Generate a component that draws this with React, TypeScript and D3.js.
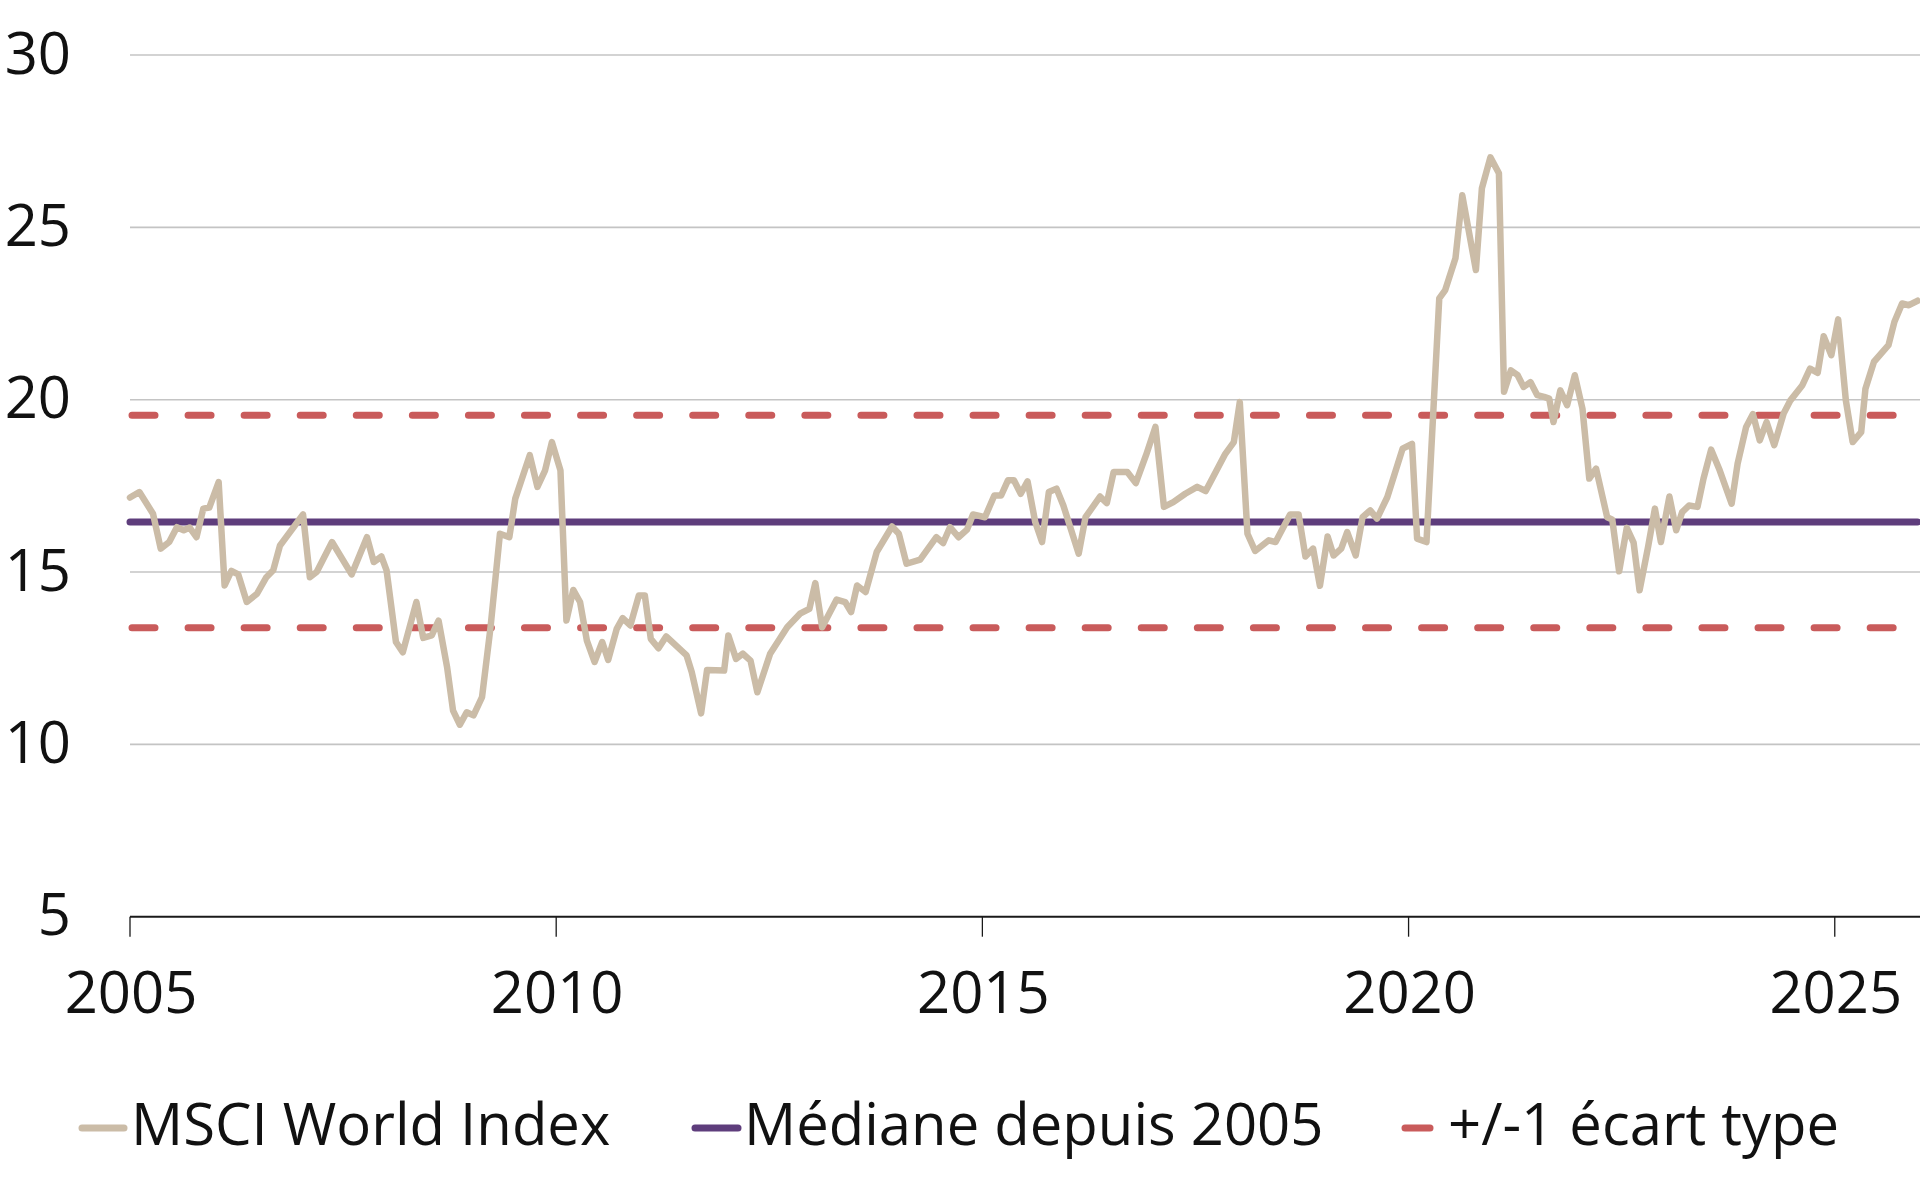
import React from "react";
import * as d3 from "d3";

const dates: number[] = [
  2005.0, 2005.11, 2005.27, 2005.36, 2005.46, 2005.55, 2005.63, 2005.7, 2005.78, 2005.86, 2005.93,
  2006.04, 2006.11, 2006.19, 2006.27, 2006.37, 2006.49, 2006.6, 2006.68, 2006.76,
  2007.03, 2007.11, 2007.19, 2007.37, 2007.6, 2007.78, 2007.86, 2007.95,
  2008.01, 2008.12, 2008.2, 2008.36, 2008.44, 2008.54, 2008.62, 2008.72, 2008.79, 2008.87, 2008.95,
  2009.03, 2009.13, 2009.23, 2009.34, 2009.45, 2009.52, 2009.69, 2009.78, 2009.87, 2009.95,
  2010.05, 2010.12, 2010.2, 2010.28, 2010.36, 2010.45, 2010.54, 2010.61, 2010.71, 2010.78, 2010.87, 2010.97,
  2011.04, 2011.11, 2011.2, 2011.29, 2011.53, 2011.59, 2011.7, 2011.77, 2011.97,
  2012.02, 2012.11, 2012.19, 2012.28, 2012.36, 2012.51, 2012.71, 2012.86, 2012.97,
  2013.04, 2013.12, 2013.29, 2013.39, 2013.46, 2013.53, 2013.63, 2013.76, 2013.94,
  2014.02, 2014.11, 2014.27, 2014.46, 2014.54, 2014.62, 2014.72, 2014.82, 2014.89,
  2015.03, 2015.14, 2015.22, 2015.3, 2015.37, 2015.45, 2015.53, 2015.62, 2015.7, 2015.78, 2015.87, 2015.95,
  2016.13, 2016.21, 2016.38, 2016.46, 2016.54, 2016.7, 2016.8, 2016.92,
  2017.03, 2017.13, 2017.24, 2017.38, 2017.52, 2017.62, 2017.85, 2017.95,
  2018.02, 2018.11, 2018.2, 2018.36, 2018.44, 2018.61, 2018.71, 2018.79, 2018.88, 2018.96,
  2019.05, 2019.12, 2019.21, 2019.28, 2019.38, 2019.46, 2019.55, 2019.63, 2019.75, 2019.93,
  2020.04, 2020.1, 2020.21, 2020.36, 2020.43, 2020.55, 2020.63, 2020.79, 2020.86, 2020.96,
  2021.06, 2021.12, 2021.2, 2021.28, 2021.35, 2021.43, 2021.51, 2021.59, 2021.65, 2021.7, 2021.78, 2021.86, 2021.95,
  2022.04, 2022.12, 2022.2, 2022.33, 2022.39, 2022.47, 2022.56, 2022.64, 2022.71, 2022.81, 2022.89, 2022.96,
  2023.06, 2023.14, 2023.21, 2023.29, 2023.39, 2023.46, 2023.55, 2023.65, 2023.79, 2023.86, 2023.96,
  2024.04, 2024.12, 2024.2, 2024.29, 2024.4, 2024.48, 2024.62, 2024.71, 2024.8, 2024.87, 2024.96,
  2025.04, 2025.13, 2025.21, 2025.31, 2025.36, 2025.46, 2025.63, 2025.7, 2025.79, 2025.87, 2025.97,
];

const msciPE: number[] = [
  17.16, 17.32, 16.69, 15.68, 15.87, 16.3, 16.21, 16.29, 16.01, 16.84, 16.87,
  17.61, 14.61, 15.03, 14.93, 14.13, 14.37, 14.85, 15.05, 15.77,
  16.67, 14.85, 15.0, 15.87, 14.93, 16.01, 15.29, 15.45,
  15.05, 12.97, 12.67, 14.13, 13.09, 13.16, 13.59, 12.24, 10.98, 10.57, 10.93,
  10.84, 11.37, 13.4, 16.11, 16.01, 17.13, 18.39, 17.47, 17.95, 18.77,
  17.95, 13.59, 14.48, 14.13, 13.01, 12.39, 12.97, 12.45, 13.35, 13.66, 13.45, 14.32,
  14.32, 13.06, 12.79, 13.13, 12.58, 12.1, 10.9, 12.16, 12.14,
  13.16, 12.48, 12.63, 12.43, 11.51, 12.63, 13.4, 13.79, 13.93,
  14.68, 13.4, 14.2, 14.13, 13.84, 14.61, 14.42, 15.58, 16.32,
  16.11, 15.24, 15.36, 16.01, 15.84, 16.3, 16.01, 16.23, 16.67,
  16.59, 17.22, 17.22, 17.66, 17.66, 17.27, 17.63, 16.45, 15.87, 17.32, 17.42, 16.93,
  15.53, 16.59, 17.19, 17.0, 17.9, 17.9, 17.58, 18.39,
  19.21, 16.89, 17.03, 17.27, 17.47, 17.35, 18.43, 18.77,
  19.93, 16.11, 15.61, 15.92, 15.87, 16.67, 16.67, 15.45, 15.68, 14.6,
  16.03, 15.48, 15.68, 16.16, 15.48, 16.59, 16.79, 16.55, 17.17, 18.58,
  18.72, 15.97, 15.87, 22.94, 23.18, 24.1, 25.93, 23.76, 26.13, 27.03,
  26.57, 20.23, 20.85, 20.71, 20.37, 20.51, 20.13, 20.08, 20.03, 19.35, 20.27, 19.84, 20.71,
  19.74, 17.71, 18.0, 16.59, 16.52, 15.02, 16.28, 15.85, 14.47, 15.73, 16.84, 15.87,
  17.19, 16.21, 16.74, 16.93, 16.89, 17.71, 18.55, 17.95, 16.98, 18.14, 19.21,
  19.58, 18.82, 19.35, 18.68, 19.6, 19.98, 20.42, 20.9, 20.78, 21.84, 21.29,
  22.33, 19.98, 18.77, 19.06, 20.32, 21.1, 21.58, 22.26, 22.79, 22.74, 22.87,
];

const medianValue: number[] = [16.45];
const stdBands: number[] = [19.55, 13.38];

const yTicks: number[] = [5, 10, 15, 20, 25, 30];
const xTicks: number[] = [2005, 2010, 2015, 2020, 2025];

const legendLabels: string[] = ["MSCI World Index", "Médiane depuis 2005", "+/-1 écart type"];

const COLORS = {
  msci: "#CBBCA7",
  median: "#5E3D7C",
  band: "#C95B5B",
  grid: "#C4C4C4",
  axis: "#1a1a1a",
  text: "#111111",
};

const FONT = "'Open Sans', 'Noto Sans', sans-serif";

export default function App() {
  const W = 1920;
  const H = 1200;
  const x = d3.scaleLinear().domain([2005, 2026]).range([130, 1920]);
  const y = d3.scaleLinear().domain([5, 30]).range([916.7, 55]);

  const pts = dates.map((d, i) => [d, msciPE[i]] as [number, number]);
  const line = d3
    .line<[number, number]>()
    .x((p) => x(p[0]))
    .y((p) => y(p[1]));

  const fontSize = 58;

  const legendItems = [
    { label: legendLabels[0], color: COLORS.msci, x1: 82, x2: 124, tx: 131 },
    { label: legendLabels[1], color: COLORS.median, x1: 695, x2: 738, tx: 744 },
    { label: legendLabels[2], color: COLORS.band, x1: 1405, x2: 1430, tx: 1448 },
  ];

  return (
    <div style={{ position: "absolute", left: 0, top: 0, width: W, height: H, background: "#fff" }}>
      <svg width={W} height={H} viewBox={`0 0 ${W} ${H}`} style={{ display: "block" }}>
        <rect x={0} y={0} width={W} height={H} fill="#fff" />
        {/* gridlines */}
        {yTicks
          .filter((t) => t !== 5)
          .map((t) => (
            <line
              key={"g" + t}
              x1={x(2005)}
              x2={W}
              y1={y(t)}
              y2={y(t)}
              stroke={COLORS.grid}
              strokeWidth={1.6}
            />
          ))}
        {/* y labels */}
        {yTicks.map((t) => (
          <text
            key={"yl" + t}
            x={71}
            y={y(t) + 18.5}
            textAnchor="end"
            fontFamily={FONT}
            fontSize={fontSize}
            fill={COLORS.text}
          >
            {t}
          </text>
        ))}
        {/* x axis */}
        <line x1={x(2005)} x2={W} y1={y(5)} y2={y(5)} stroke={COLORS.axis} strokeWidth={2} />
        {xTicks.map((t) => (
          <g key={"xt" + t}>
            <line x1={x(t)} x2={x(t)} y1={y(5)} y2={y(5) + 20} stroke={COLORS.axis} strokeWidth={1.3} />
            <text
              x={x(t) + 1}
              y={1013}
              textAnchor="middle"
              fontFamily={FONT}
              fontSize={fontSize}
              fill={COLORS.text}
            >
              {t}
            </text>
          </g>
        ))}
        {/* std bands */}
        {stdBands.map((v, i) => (
          <line
            key={"b" + i}
            x1={x(2005) + 2}
            x2={W}
            y1={y(v)}
            y2={y(v)}
            stroke={COLORS.band}
            strokeWidth={7}
            strokeLinecap="round"
            strokeDasharray="23 33.07"
          />
        ))}
        {/* median */}
        {medianValue.map((v, i) => (
          <line
            key={"m" + i}
            x1={x(2005)}
            x2={x(dates[dates.length - 1])}
            y1={y(v)}
            y2={y(v)}
            stroke={COLORS.median}
            strokeWidth={7}
            strokeLinecap="round"
          />
        ))}
        {/* MSCI line */}
        <path
          d={line(pts) || ""}
          fill="none"
          stroke={COLORS.msci}
          strokeWidth={6.5}
          strokeLinejoin="round"
          strokeLinecap="round"
        />
        {/* legend */}
        {legendItems.map((it, i) => (
          <g key={"lg" + i}>
            <line
              x1={it.x1}
              x2={it.x2}
              y1={1128}
              y2={1128}
              stroke={it.color}
              strokeWidth={7}
              strokeLinecap="round"
            />
            <text x={it.tx} y={1145} fontFamily={FONT} fontSize={fontSize} fill={COLORS.text}>
              {it.label}
            </text>
          </g>
        ))}
      </svg>
    </div>
  );
}
